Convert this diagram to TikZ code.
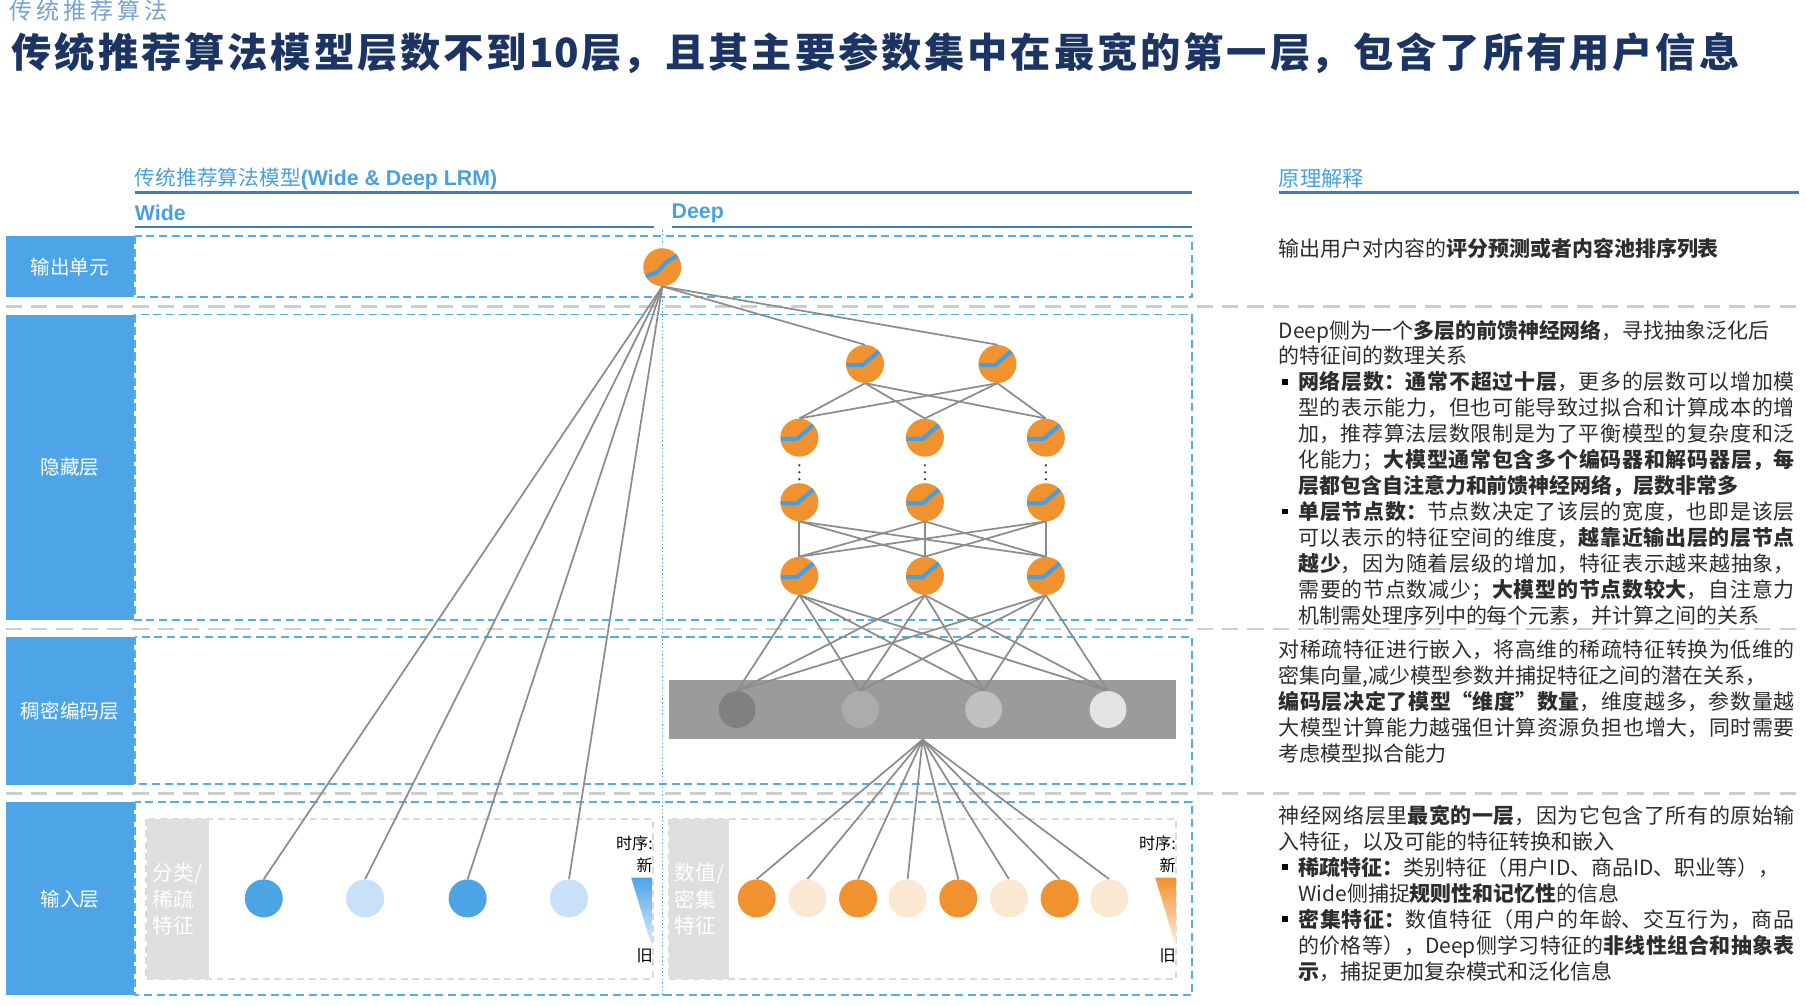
\documentclass[tikz,border=0pt]{standalone}
\usepackage{fontspec}
\setmainfont{Noto Sans CJK SC}
\newfontfamily\arialf{Liberation Sans}
\XeTeXlinebreaklocale "zh"
\XeTeXlinebreakskip=0pt plus 1pt
\pgfdeclarelayer{back}
\pgfdeclarelayer{mid}
\pgfsetlayers{back,mid,main}
\definecolor{lblue}{RGB}{77,165,232}
\definecolor{dblue}{RGB}{80,175,230}
\definecolor{hblue}{RGB}{72,160,225}
\definecolor{ublue}{RGB}{60,125,190}
\definecolor{navy}{RGB}{28,52,100}
\definecolor{topblue}{RGB}{120,160,210}
\definecolor{orng}{RGB}{240,146,48}
\definecolor{porng}{RGB}{251,232,210}
\definecolor{wblue}{RGB}{76,164,230}
\definecolor{pblue}{RGB}{200,224,248}
\definecolor{lgray}{RGB}{140,140,140}
\definecolor{bargray}{RGB}{155,155,155}
\definecolor{sepgray}{RGB}{205,205,205}
\definecolor{ilgray}{RGB}{222,222,222}
\definecolor{iboxgray}{RGB}{218,218,218}
\definecolor{txt}{RGB}{45,45,45}
\definecolor{sigblue}{RGB}{62,160,230}
\definecolor{dgA}{RGB}{128,128,128}
\definecolor{dgB}{RGB}{172,172,172}
\definecolor{dgC}{RGB}{192,192,192}
\definecolor{dgD}{RGB}{228,228,228}
\newcommand\bulitem{\par\noindent\hangindent=17pt\hangafter=1\makebox[17pt][l]{\hspace{3pt}\textcolor{black}{\rule[4.5pt]{5pt}{5pt}}}}
\newcommand\paraset{\fontsize{18.2}{22.5}\selectfont\parindent=0pt\parskip=0pt\relax}
\begin{document}
\begin{tikzpicture}[x=1pt,y=-1pt,
  lab/.style={fill=lblue, text=white, minimum width=111pt, inner sep=0pt, anchor=north west, font=\fontsize{17}{20}\selectfont},
  dbox/.style={draw=dblue, line width=1.6pt, dash pattern=on 7pt off 4pt},
  sepl/.style={draw=sepgray, line width=2pt, dash pattern=on 14pt off 8pt},
  conn/.style={draw=lgray, line width=1.5pt},
  neur/.style={circle, fill=orng, minimum size=33pt, inner sep=0pt},
  sig/.style={draw=sigblue, line width=3.5pt},
  inb/.style={circle, minimum size=33pt, inner sep=0pt},
  dnode/.style={circle, minimum size=32pt, inner sep=0pt},
  hdr/.style={anchor=west, inner sep=0pt, text=hblue},
  uline/.style={draw=ublue, line width=2pt},
  para/.style={anchor=north west, inner sep=0pt, text width=448pt, align=justify, text=txt},
  ibox/.style={draw=iboxgray, line width=1.5pt, dash pattern=on 6pt off 4pt},
  ilab/.style={fill=ilgray, text=white, minimum height=139pt, inner sep=0pt, anchor=north west, align=left, font=\fontsize{18}{23}\selectfont},
  tlab/.style={anchor=east, inner sep=0pt, font=\fontsize{14}{16}\selectfont, text=black}
]
\useasboundingbox (0,0) rectangle (1568,873.4);

% ---------- background: boxes and separators ----------
\begin{pgfonlayer}{back}
\foreach \yy in {266,546,689} \draw[sepl] (5,\yy) -- (1562,\yy);
\draw[dbox] (117,205) rectangle (1035,258);
\draw[dbox] (117,273) rectangle (1035,538);
\draw[dbox] (117,553) rectangle (1035,681);
\draw[dbox] (117,696) rectangle (1035,864);
\draw[dblue, line width=1.2pt, dotted] (575,200) -- (575,864);
\draw[ibox] (127,711) rectangle (567,850);
\draw[ibox] (581,711) rectangle (1021,850);
\node[fill=bargray, minimum width=440pt, minimum height=52pt, inner sep=0pt] (bar) at (801,616) {};
\end{pgfonlayer}

% ---------- headers ----------
\node[anchor=west, inner sep=0pt, text width=137pt, align=justify, text=topblue, font=\fontsize{20}{22}\selectfont] (sec) at (8,9)
  {\XeTeXlinebreakskip=0pt plus 20pt\parfillskip=0pt 传统推荐算法\par};
\node[anchor=west, inner sep=0pt, text width=1500pt, align=justify, text=navy, font=\fontsize{35}{40}\selectfont\bfseries] (title) at (10,46)
  {\XeTeXlinebreakskip=0pt plus 30pt\parfillskip=0pt 传统推荐算法模型层数不到10层，且其主要参数集中在最宽的第一层，包含了所有用户信息\par};
\node[hdr, font=\fontsize{18}{20}\selectfont] (mh) at (117,155) {传统推荐算法模型{\arialf\bfseries\fontsize{18.5}{20}\selectfont(Wide \& Deep LRM)}};
\draw[uline] (117,167) -- (1035,167);
\node[hdr, font=\arialf\bfseries\fontsize{18.5}{20}\selectfont] (wide) at (117,185) {Wide};
\draw[uline] (117,197) -- (568,197);
\node[hdr, font=\arialf\bfseries\fontsize{18.5}{20}\selectfont] (deep) at (583,185) {Deep};
\draw[uline] (583,197) -- (1035,197);
\node[hdr, font=\fontsize{18.5}{20}\selectfont] (yl) at (1110,155) {原理解释};
\draw[uline] (1110,167) -- (1562,167);

% ---------- left labels ----------
\node[lab, minimum height=53pt] (l1) at (5,205) {输出单元};
\node[lab, minimum height=265pt] (l2) at (5,273) {隐藏层};
\node[lab, minimum height=128pt] (l3) at (5,553) {稠密编码层};
\node[lab, minimum height=168pt] (l4) at (5,696) {输入层};

% ---------- neurons ----------
\node[neur] (o) at (575,232) {};
\node[neur] (a1) at (751,316) {};
\node[neur] (a2) at (866,316) {};
\foreach \i/\x in {1/694,2/803,3/908} {
  \node[neur] (b\i) at (\x,380) {};
  \node[neur] (c\i) at (\x,436) {};
  \node[neur] (e\i) at (\x,500) {};
  \foreach \yy in {404,410,416} \fill[black!75] (\x,\yy) circle[radius=1.1pt];
}
\node[dnode, fill=dgA] (d1) at (640,616) {};
\node[dnode, fill=dgB] (d2) at (747,616) {};
\node[dnode, fill=dgC] (d3) at (854,616) {};
\node[dnode, fill=dgD] (d4) at (962,616) {};
\foreach \i/\x/\c in {1/657/orng,2/701/porng,3/745/orng,4/788/porng,5/832/orng,6/876/porng,7/920/orng,8/963/porng}
  \node[inb, fill=\c] (i\i) at (\x,780) {};
\foreach \i/\x/\c in {1/229/wblue,2/317/pblue,3/406/wblue,4/494/pblue}
  \node[inb, fill=\c] (w\i) at (\x,780) {};

% activation symbols
\foreach \n in {a1,a2,b1,b2,b3,c1,c2,c3,e1,e2,e3}
  \draw[sig] ([shift={(-16,1)}]\n.center) -- ([shift={(-2,1)}]\n.center) -- ([shift={(12,-11)}]\n.center);
\draw[sig] ([shift={(-14,8)}]o.center) -- ([shift={(-6,5)}]o.center) .. controls ([shift={(-1,3)}]o.center) and ([shift={(1,-4)}]o.center) .. ([shift={(6,-6)}]o.center) -- ([shift={(13,-10)}]o.center);

% ---------- connectors ----------
\begin{pgfonlayer}{mid}
\foreach \n in {w1,w2,w3,w4,a1,a2} \draw[conn] (o.south) -- (\n.north);
\foreach \s in {a1,a2} \foreach \t in {b1,b2,b3} \draw[conn] (\s.south) -- (\t.north);
\foreach \s in {c1,c2,c3} \foreach \t in {e1,e2,e3} \draw[conn] (\s.south) -- (\t.north);
\foreach \s in {e1,e2,e3} \foreach \t in {d1,d2,d3,d4} \draw[conn] (\s.south) -- (\t.north);
\foreach \t in {i1,i2,i3,i4,i5,i6,i7,i8} \draw[conn] (bar.south) -- (\t.north);
\end{pgfonlayer}

% ---------- input boxes ----------
\node[ilab, minimum width=54pt] (il1) at (127,711) {分类/\\稀疏\\特征};
\node[ilab, minimum width=52pt] (il2) at (581,711) {数值/\\密集\\特征};
\node[tlab] (t1) at (567,732) {时序:};
\node[tlab] (n1) at (567,751) {新};
\node[tlab] (j1) at (567,830) {旧};
\shade[top color=wblue, bottom color=pblue!50] (548,762) -- (566,762) -- (566,822) -- cycle;
\node[tlab] (t2) at (1021,732) {时序:};
\node[tlab] (n2) at (1021,751) {新};
\node[tlab] (j2) at (1021,830) {旧};
\shade[top color=orng, bottom color=porng!60] (1003,762) -- (1021,762) -- (1021,822) -- cycle;

% ---------- right text ----------
\node[anchor=west, inner sep=0pt, text=txt, font=\fontsize{18.2}{22}\selectfont] (p1) at (1110,216)
  {输出用户对内容的\textbf{评分预测或者内容池排序列表}};
\node[para] (p2) at (1110,277.5) {\paraset
Deep侧为一个\textbf{多层的前馈神经网络}，寻找抽象泛化后\newline
的特征间的数理关系
\bulitem\textbf{网络层数：通常不超过十层}，更多的层数可以增加模\linebreak
型的表示能力，但也可能导致过拟合和计算成本的增\linebreak
加，推荐算法层数限制是为了平衡模型的复杂度和泛\linebreak
化能力；\textbf{大模型通常包含多个编码器和解码器层，每\linebreak
层都包含自注意力和前馈神经网络，层数非常多}
\bulitem\textbf{单层节点数：}节点数决定了该层的宽度，也即是该层\linebreak
可以表示的特征空间的维度，\textbf{越靠近输出层的层节点\linebreak
越少}，因为随着层级的增加，特征表示越来越抽象，\linebreak
需要的节点数减少；\textbf{大模型的节点数较大}，自注意力\linebreak
机制需处理序列中的每个元素，并计算之间的关系\par};
\node[para] (p3) at (1110,555.5) {\paraset
对稀疏特征进行嵌入，将高维的稀疏特征转换为低维的\linebreak
密集向量,减少模型参数并捕捉特征之间的潜在关系，\newline
\textbf{编码层决定了模型“维度”数量}，维度越多，参数量越\linebreak
大模型计算能力越强但计算资源负担也增大，同时需要\linebreak
考虑模型拟合能力\par};
\node[para] (p4) at (1110,699) {\paraset
神经网络层里\textbf{最宽的一层}，因为它包含了所有的原始输\linebreak
入特征，以及可能的特征转换和嵌入
\bulitem\textbf{稀疏特征：}类别特征（用户ID、商品ID、职业等），\newline
Wide侧捕捉\textbf{规则性和记忆性}的信息
\bulitem\textbf{密集特征：}数值特征（用户的年龄、交互行为，商品\linebreak
的价格等），Deep侧学习特征的\textbf{非线性组合和抽象表\linebreak
示}，捕捉更加复杂模式和泛化信息\par};
\end{tikzpicture}
\end{document}
